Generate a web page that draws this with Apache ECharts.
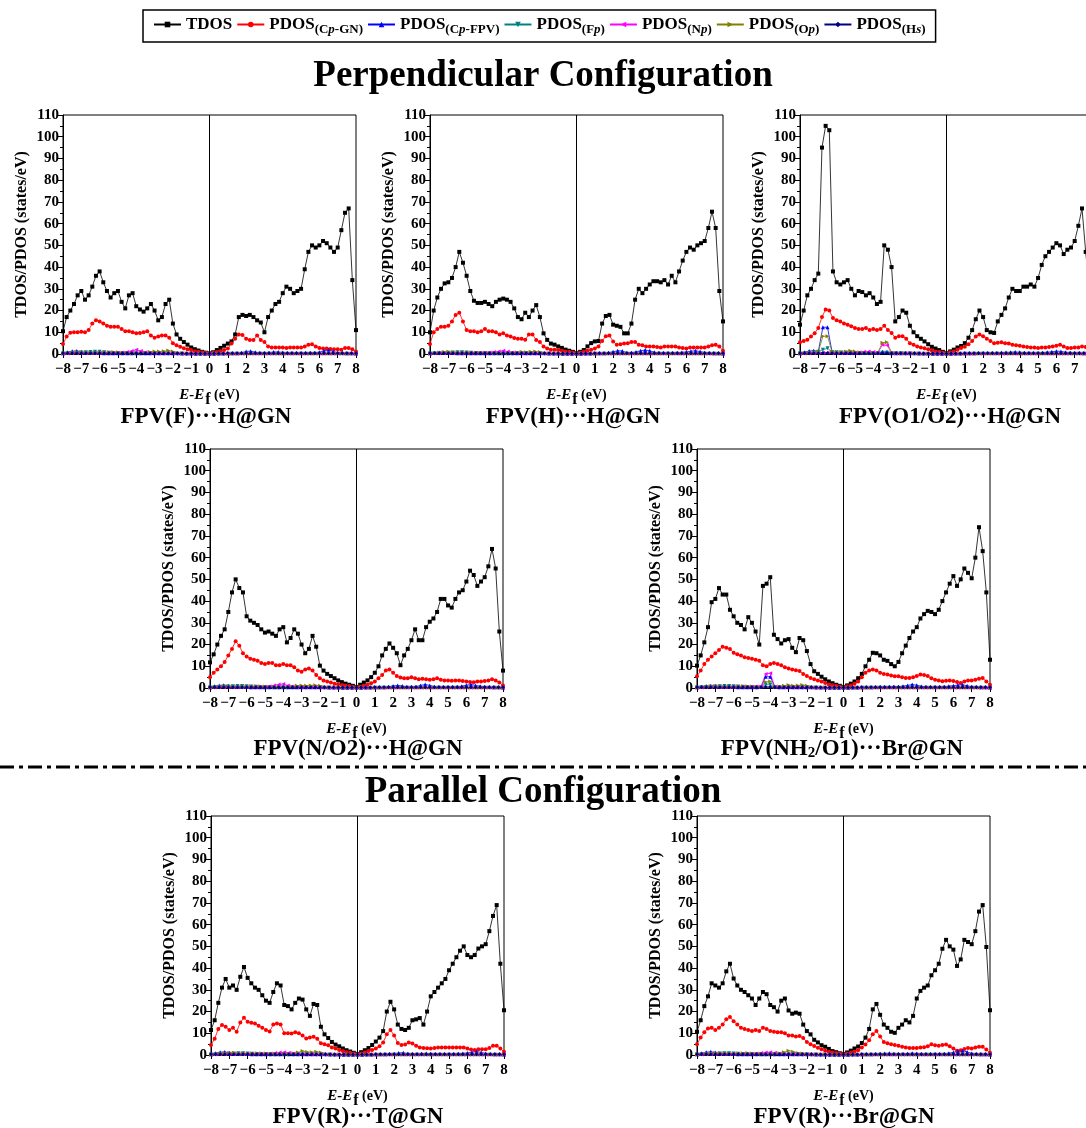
<!DOCTYPE html>
<html>
<head>
<meta charset="utf-8">
<script src="https://cdn.jsdelivr.net/npm/echarts/dist/echarts.min.js"></script>
<style>html,body{margin:0;padding:0;background:#fff}#main{width:1086px;height:1128px}</style>
</head>
<body>
<div id="main"></div>
<script>
// energy grids (eV)
var E_MAIN = [-8,-7.8,-7.6,-7.4,-7.2,-7,-6.8,-6.6,-6.4,-6.2,-6,-5.8,-5.6,-5.4,-5.2,-5,-4.8,-4.6,-4.4,-4.2,
-4,-3.8,-3.6,-3.4,-3.2,-3,-2.8,-2.6,-2.4,-2.2,-2,-1.8,-1.6,-1.4,-1.2,-1,-0.8,-0.6,-0.4,-0.2,
0,0.2,0.4,0.6,0.8,1,1.2,1.4,1.6,1.8,2,2.2,2.4,2.6,2.8,3,3.2,3.4,3.6,3.8,
4,4.2,4.4,4.6,4.8,5,5.2,5.4,5.6,5.8,6,6.2,6.4,6.6,6.8,7,7.2,7.4,7.6,7.8,8];
var E_MINOR = [-8,-7.75,-7.5,-7.25,-7,-6.75,-6.5,-6.25,-6,-5.75,-5.5,-5.25,-5,-4.75,-4.5,-4.25,
-4,-3.75,-3.5,-3.25,-3,-2.75,-2.5,-2.25,-2,-1.75,-1.5,-1.25,-1,-0.75,-0.5,-0.25,
0,0.25,0.5,0.75,1,1.25,1.5,1.75,2,2.25,2.5,2.75,3,3.25,3.5,3.75,
4,4.25,4.5,4.75,5,5.25,5.5,5.75,6,6.25,6.5,6.75,7,7.25,7.5,7.75,8];

// panel 1 : FPV(F)...H@GN
var tdos_1 = [10.5,17,20,23,27,29,25,27,31,36, 38,33,29,26,28,29,24,21,27,28, 22,20.5,19.5,21,23,20,15.5,17,23,25,
14,9,7,5.5,4.3,3,2.2,1.6,1,0.6, 0.3,0.8,1.8,2.8,3.8,4.8,5.8,9,17,18, 17.5,18,17,15.5,14.5,10,17,20,23,24,
28,31,30,28,29,30,39,47,50,49, 50,52,51,49,47,49,57,65,67,34, 11];
var cpgn_1 = [4.6,8,9.8,10,10,10.2,10,11,14,15.5, 15,14,13,12.5,12.5,12.5,11.5,10.5,10.5,10, 9.5,9.7,10,10.5,8.5,7.5,8,8.5,8.5,7.5,
5,4,3.3,2.7,2.2,1.8,1.3,1,0.8,0.6, 0.4,0.6,0.9,1.3,1.8,2.5,4.8,7,9,8.8, 7,6.5,6.5,8.5,6.5,5.5,3.5,3,3,3,
3,2.8,3,3,3,3,3.5,4.3,4.5,3.5, 2.8,2.5,2.5,2.3,2.2,2.2,2,2.8,2.8,2.2, 1.2];
var cpfpv_1 = [0.4,0.8,1.3,1.4,1.0,0.6,0.5,0.5, 0.5,0.4,0.4,0.4,0.4,0.4,0.4,0.4, 0.4,0.4,0.4,0.4,0.4,0.4,0.3,0.3, 0.3,0.3,0.2,0.2,0.2,0.1,0.1,0.1,
0.1,0.1,0.2,0.2,0.3,0.3,0.4,0.5, 1.2,1.3,0.8,0.5,0.5,0.6,0.9,0.9, 0.7,0.5,0.5,0.5,0.5,0.5,0.6,0.6, 0.8,1.5,1.9,1.2,0.6,0.5,0.4,0.3, 0.2];
var fp_1 = [0.2,0.3,0.5,0.6,0.7,0.8,0.9,1.0, 1.0,0.8,0.6,0.5,0.4,0.3,0.3,0.3, 0.3,0.3,0.3,0.3,0.3,0.3,0.3,0.2, 0.2,0.1,0.1,0.1,0.1,0.1,0.1,0.1,
0.1,0.1,0.1,0.1,0.1,0.1,0.1,0.1, 0.1,0.1,0.1,0.1,0.1,0.1,0.1,0.1, 0.1,0.1,0.1,0.1,0.1,0.1,0.1,0.1, 0.1,0.1,0.1,0.1,0.1,0.1,0.1,0.1, 0.1];
var np_1 = [0.1,0.2,0.3,0.3,0.4,0.4,0.4,0.4, 0.5,0.5,0.5,0.6,0.6,0.7,0.9,1.4, 1.9,1.4,0.8,0.5,0.4,0.4,0.4,0.3, 0.3,0.2,0.2,0.1,0.1,0.1,0.1,0.1,
0.1,0.1,0.1,0.1,0.1,0.1,0.1,0.1, 0.1,0.1,0.1,0.1,0.1,0.1,0.1,0.1, 0.1,0.1,0.1,0.1,0.1,0.1,0.1,0.1, 0.1,0.1,0.1,0.1,0.1,0.1,0.1,0.1, 0.1];
var op_1 = [0.2,0.4,0.6,0.8,0.8,0.7,0.6,0.6, 0.6,0.7,0.8,0.9,0.8,0.6,0.5,0.4, 0.4,0.5,0.7,0.9,1.2,1.1,1.3,1.6, 1.2,0.5,0.3,0.2,0.2,0.1,0.1,0.1,
0.1,0.1,0.1,0.1,0.1,0.1,0.1,0.1, 0.1,0.1,0.1,0.1,0.1,0.1,0.1,0.1, 0.1,0.1,0.1,0.1,0.1,0.1,0.1,0.1, 0.1,0.1,0.1,0.1,0.1,0.1,0.1,0.1, 0.1];
var hs_1 = [0.3,0.3,0.4,0.4,0.3,0.3,0.3,0.3, 0.3,0.3,0.3,0.3,0.3,0.3,0.3,0.3, 0.3,0.3,0.3,0.3,0.3,0.3,0.3,0.3, 0.3,0.3,0.3,0.2,0.2,0.2,0.2,0.2,
0.2,0.2,0.2,0.2,0.3,0.3,0.3,0.3, 0.3,0.3,0.3,0.3,0.3,0.3,0.3,0.3, 0.3,0.3,0.3,0.3,0.3,0.3,0.3,0.3, 0.3,0.3,0.3,0.3,0.3,0.3,0.3,0.3, 0.3];

// panel 2 : FPV(H)...H@GN
var tdos_2 = [10,20,26,30,32.5,33,35,40,47,42, 36,29,24.5,23.5,23.5,24,23,22,24,25, 25.5,25,24,21,17,16,19,17,20,22.5,
17,9.5,6.5,4.8,4.3,3.5,2.8,2,1.5,1, 0.5,1,1.8,3.5,5,5.8,6,14,17.5,18, 13.5,13,12.5,9.5,9.5,14,25,30,28,30,
32,33.5,33.5,33,34,32,36,33,38,43, 47,49,48,50,51,52,58,65.5,58,29, 15];
var cpgn_2 = [4.6,10,11.5,12.5,12.5,13,15,18,19,15, 11,10.5,10.5,10,10.5,11.5,10.5,10.5,10,9, 9.5,8.5,8,7.4,7,7,6.6,9,9,6.5,
5.5,3.5,2.5,2,2,1.8,1.5,1.2,1,0.7, 0.5,0.7,1,1.5,2,2.5,3.5,6,8.2,8.5, 5.8,4.3,4.5,4.8,5,5.5,5.5,4.3,4,3.5,
3.5,3.5,3.2,3,3.5,3.5,3.5,3.5,3,2.8, 2.5,3,3,3,3,3,3.5,4,4.2,3.5, 1.5];
var cpfpv_2 = [0.4,0.5,0.7,0.8,0.6,0.5,0.4,0.4, 0.4,0.4,0.4,0.4,0.4,0.4,0.4,0.4, 0.4,0.4,0.4,0.4,0.4,0.4,0.3,0.3, 0.3,0.3,0.2,0.2,0.2,0.1,0.1,0.1,
0.1,0.1,0.2,0.2,0.3,0.3,0.4,0.6, 1.0,1.5,1.4,0.6,0.6,0.9,1.5,1.8, 1.5,0.8,0.6,0.5,0.5,0.5,0.6,0.7, 0.9,1.3,1.5,1.1,0.7,0.5,0.4,0.3, 0.2];
var fp_2 = [0.2,0.3,0.4,0.5,0.6,0.7,0.8,0.8, 0.7,0.6,0.5,0.4,0.4,0.3,0.3,0.3, 0.3,0.3,0.3,0.3,0.3,0.3,0.3,0.2, 0.2,0.1,0.1,0.1,0.1,0.1,0.1,0.1,
0.1,0.1,0.1,0.1,0.1,0.1,0.1,0.1, 0.1,0.1,0.1,0.1,0.1,0.1,0.1,0.1, 0.1,0.1,0.1,0.1,0.1,0.1,0.1,0.1, 0.1,0.1,0.1,0.1,0.1,0.1,0.1,0.1, 0.1];
var np_2 = [0.1,0.2,0.3,0.3,0.4,0.4,0.4,0.4, 0.5,0.5,0.5,0.6,0.6,0.7,0.9,1.2, 1.5,1.1,0.7,0.5,0.4,0.4,0.3,0.3, 0.3,0.2,0.2,0.1,0.1,0.1,0.1,0.1,
0.1,0.1,0.1,0.1,0.1,0.1,0.1,0.1, 0.1,0.1,0.1,0.1,0.1,0.1,0.1,0.1, 0.1,0.1,0.1,0.1,0.1,0.1,0.1,0.1, 0.1,0.1,0.1,0.1,0.1,0.1,0.1,0.1, 0.1];
var op_2 = [0.2,0.4,0.7,0.9,1.0,0.8,0.6,0.6, 0.6,0.6,0.6,0.6,0.6,0.5,0.4,0.4, 0.4,0.4,0.5,0.7,1.0,0.8,1.0,1.2, 0.9,0.4,0.2,0.2,0.1,0.1,0.1,0.1,
0.1,0.1,0.1,0.1,0.1,0.1,0.1,0.1, 0.1,0.1,0.1,0.1,0.1,0.1,0.1,0.1, 0.1,0.1,0.1,0.1,0.1,0.1,0.1,0.1, 0.1,0.1,0.1,0.1,0.1,0.1,0.1,0.1, 0.1];
var hs_2 = [0.3,0.3,0.4,0.4,0.3,0.3,0.3,0.3, 0.3,0.3,0.3,0.3,0.3,0.3,0.3,0.3, 0.3,0.3,0.3,0.3,0.3,0.3,0.3,0.3, 0.3,0.3,0.3,0.2,0.2,0.2,0.2,0.2,
0.2,0.2,0.2,0.2,0.3,0.3,0.3,0.3, 0.3,0.3,0.3,0.3,0.3,0.3,0.3,0.3, 0.3,0.3,0.3,0.3,0.3,0.3,0.3,0.3, 0.3,0.3,0.3,0.3,0.3,0.3,0.3,0.3, 0.3];

// panel 3 : FPV(O1/O2)...H@GN
var tdos_3 = [13.5,20,27,30,34,37,95,105,103,38, 33,32,33,34,30,27,29,28.5,27,28, 26,23,24,50,48,40,15,17,20,19,
13,10,8.2,7,5.8,4.5,3.3,2.5,1.8,1, 0.5,1.2,2,3,3.7,5,7.5,11,16,20, 17,11,10,9.7,15,18,21,26,30,29,
29,31,31,32,31,35,41,45,47,49, 51,50,46,48,49,52,59,67,47,30, 15];
var cpgn_3 = [5.4,6,6.6,8,9.5,12,17,20.5,20,16.6, 15.5,15,14,13.5,12.8,12,11.5,11.5,12,11, 11.5,11,11.5,13,11,9.7,7.5,8.2,8.2,7,
5,4.2,3.5,3,2.7,2.2,1.6,1.2,1,0.7, 0.5,0.8,1.2,2,2.8,3.3,4.5,6,8,9, 8.2,7,6,5,5.2,5.4,5,4.8,4.3,4,
3.8,3.5,3.2,3,3,2.8,3,3,3.2,3.5, 3.8,4.3,3.5,2.8,2.8,3,3,3.5,3.2,2.8, 1.5];
var cpfpv_3 = [0.4,0.8,1.4,1.5,1.2,12.3,12.3,1.0, 0.6,0.5,0.5,0.5,0.5,0.5,0.5,0.5, 0.5,0.5,1.0,1.0,0.4,0.4,0.4,0.3, 0.3,0.3,0.2,0.2,0.2,0.1,0.1,0.1,
0.1,0.1,0.2,0.2,0.3,0.3,0.4,0.5, 0.5,0.5,0.5,0.5,0.6,0.7,0.8,0.9, 0.8,0.6,0.5,0.5,0.5,0.6,0.8,1.0, 1.3,1.2,0.8,0.6,0.5,0.5,0.4,0.4, 0.3];
var fp_3 = [0.2,0.3,0.5,0.7,1.0,2.0,2.6,0.9, 0.8,0.7,0.7,0.6,0.5,0.4,0.4,0.4, 0.4,0.4,0.6,0.6,0.3,0.3,0.3,0.2, 0.2,0.1,0.1,0.1,0.1,0.1,0.1,0.1,
0.1,0.1,0.1,0.1,0.1,0.1,0.1,0.1, 0.1,0.1,0.1,0.1,0.1,0.1,0.1,0.1, 0.1,0.1,0.1,0.1,0.1,0.1,0.1,0.1, 0.1,0.1,0.1,0.1,0.1,0.1,0.1,0.1, 0.1];
var np_3 = [0.1,0.2,0.3,0.3,0.4,0.6,0.6,0.4, 0.4,0.4,0.5,0.6,0.6,0.8,1.0,1.2, 0.9,0.6,4.2,4.0,0.5,0.4,0.3,0.3, 0.3,0.2,0.2,0.1,0.1,0.1,0.1,0.1,
0.1,0.1,0.1,0.1,0.1,0.1,0.1,0.1, 0.1,0.1,0.1,0.1,0.1,0.1,0.1,0.1, 0.1,0.1,0.1,0.1,0.1,0.1,0.1,0.1, 0.1,0.1,0.1,0.1,0.1,0.1,0.1,0.1, 0.1];
var op_3 = [0.2,0.4,0.6,0.8,1.0,8.2,8.2,1.0, 0.8,0.8,1.0,1.5,1.2,0.8,0.6,0.5, 0.5,0.6,5.2,5.4,0.6,0.4,0.4,0.4, 0.3,0.2,0.2,0.1,0.1,0.1,0.1,0.1,
0.1,0.1,0.1,0.1,0.1,0.1,0.1,0.1, 0.1,0.1,0.1,0.1,0.1,0.1,0.1,0.1, 0.1,0.1,0.1,0.1,0.1,0.1,0.1,0.1, 0.1,0.1,0.1,0.1,0.1,0.1,0.1,0.1, 0.1];
var hs_3 = [0.3,0.3,0.4,0.4,0.4,0.5,0.5,0.3, 0.3,0.3,0.3,0.3,0.3,0.3,0.3,0.3, 0.3,0.3,0.4,0.4,0.3,0.3,0.3,0.3, 0.3,0.3,0.3,0.2,0.2,0.2,0.2,0.2,
0.2,0.2,0.2,0.2,0.3,0.3,0.3,0.3, 0.3,0.3,0.3,0.3,0.3,0.3,0.3,0.3, 0.3,0.3,0.3,0.3,0.3,0.3,0.3,0.3, 0.3,0.3,0.3,0.3,0.3,0.3,0.3,0.3, 0.3];

// panel 4 : FPV(N/O2)...H@GN
var tdos_4 = [11.8,15.5,20,24,27,35,44,50,46,44, 33,31,30,29,27,25.5,26,25,24,27, 28,21,23,27,25,20,16,18,24,19,
10.3,8,6.5,5.5,4.5,3.5,2.7,2,1.5,1, 0.5,1.5,2.5,3.5,5,7,10,15,18,20.5, 18.5,16,10.5,15,18,22,27,22,22,28,
30.5,32,35,41,41,38,37,41,44,45, 49,54,52,47,49,51,56,64,55,26, 8];
var cpgn_4 = [5,7,8.5,10,12,15,18,21.5,19.5,16, 14.5,13.5,13,12.5,11.5,11,11.5,11.5,10.5,10.5, 11,10.5,10.5,9.5,8,7.5,8.5,9,8,6,
4.5,3.5,3,2.5,2,1.7,1.4,1.1,0.9,0.6, 0.4,0.7,1,1.5,2.2,3,4.5,6,8,8.5, 7,5.5,4.8,4.5,4.5,5,4.5,4,4.2,4,
3.8,4,4.5,3.8,3.5,3.5,3.3,3.5,3.5,3.2, 3,2.8,2.7,3,3,3.2,3.5,4,3.5,2.5, 1.2];
var cpfpv_4 = [0.4,0.8,1.2,1.3,1.0,0.6,0.5,0.5, 0.5,0.4,0.4,0.4,0.4,0.4,0.4,0.4, 0.4,0.4,0.4,0.4,0.4,0.4,0.3,0.3, 0.3,0.3,0.2,0.2,0.2,0.1,0.1,0.1,
0.1,0.1,0.2,0.2,0.3,0.3,0.4,0.5, 0.9,1.2,0.9,0.5,0.5,0.6,1.2,1.6, 1.2,0.6,0.5,0.5,0.5,0.5,0.6,0.8, 1.3,1.6,1.2,0.8,0.6,0.5,0.4,0.3, 0.2];
var fp_4 = [0.2,0.3,0.5,0.6,0.7,0.8,0.9,0.9, 0.8,0.7,0.6,0.5,0.4,0.3,0.3,0.3, 0.3,0.3,0.3,0.3,0.3,0.3,0.3,0.2, 0.2,0.1,0.1,0.1,0.1,0.1,0.1,0.1,
0.1,0.1,0.1,0.1,0.1,0.1,0.1,0.1, 0.1,0.1,0.1,0.1,0.1,0.1,0.1,0.1, 0.1,0.1,0.1,0.1,0.1,0.1,0.1,0.1, 0.1,0.1,0.1,0.1,0.1,0.1,0.1,0.1, 0.1];
var np_4 = [0.1,0.2,0.3,0.3,0.4,0.4,0.4,0.4, 0.5,0.5,0.5,0.6,0.6,0.8,1.2,1.6, 1.8,1.2,0.7,0.5,0.4,0.4,0.3,0.3, 0.3,0.2,0.2,0.1,0.1,0.1,0.1,0.1,
0.1,0.1,0.1,0.1,0.1,0.1,0.1,0.1, 0.1,0.1,0.1,0.1,0.1,0.1,0.1,0.1, 0.1,0.1,0.1,0.1,0.1,0.1,0.1,0.1, 0.1,0.1,0.1,0.1,0.1,0.1,0.1,0.1, 0.1];
var op_4 = [0.2,0.4,0.6,0.8,0.8,0.7,0.6,0.6, 0.6,0.7,0.8,0.8,0.7,0.6,0.5,0.4, 0.4,0.5,0.7,1.0,1.2,1.0,1.2,1.3, 1.0,0.5,0.3,0.2,0.2,0.1,0.1,0.1,
0.1,0.1,0.1,0.1,0.1,0.1,0.1,0.1, 0.1,0.1,0.1,0.1,0.1,0.1,0.1,0.1, 0.1,0.1,0.1,0.1,0.1,0.1,0.1,0.1, 0.1,0.1,0.1,0.1,0.1,0.1,0.1,0.1, 0.1];
var hs_4 = [0.3,0.3,0.4,0.4,0.3,0.3,0.3,0.3, 0.3,0.3,0.3,0.3,0.3,0.3,0.3,0.3, 0.3,0.3,0.3,0.3,0.3,0.3,0.3,0.3, 0.3,0.3,0.3,0.2,0.2,0.2,0.2,0.2,
0.2,0.2,0.2,0.2,0.3,0.3,0.3,0.3, 0.3,0.3,0.3,0.3,0.3,0.3,0.3,0.3, 0.3,0.3,0.3,0.3,0.3,0.3,0.3,0.3, 0.3,0.3,0.3,0.3,0.3,0.3,0.3,0.3, 0.3];

// panel 5 : FPV(NH2/O1)...Br@GN
var tdos_5 = [10.3,15,21,28,39.5,41,46,43,43,36, 33,30,29,27,32.6,30,26,20,47,48, 51,24.5,22.5,20.5,22,22.5,18.5,16.5,23,22,
17,11,7.7,6.5,5.2,4,3,2.2,1.5,1, 0.5,1.2,2,3,4.5,6.5,10,13,16.2,16, 15,13,12.5,11,10,12,16,19.5,23,26,
28,32,34,35.5,35,34,36,40,44,48, 51.5,47,50,55,53,50.5,60,74,63,44, 13];
var cpgn_5 = [5.4,8,11,13,14.5,16,17.5,19,18.5,18, 16.2,15.5,15,14.2,13.8,13.5,13,12.5,10.5,10, 11,11.5,11,10.5,9.5,9,8.5,8.2,7.8,6.5,
5.5,4.6,4,3.5,3,2.3,1.6,1.3,1,0.7, 0.4,0.8,1.2,2,3,5,7,8,8.5,8, 7,6.5,6.2,5.8,5.4,5.4,5,4.6,4.6,5,
5.5,6.2,6,5.5,4.5,3.8,3.5,3.1,3.3,3.5, 3.2,2.8,2.3,3,3.5,3.5,3.8,4.3,4.6,3, 1.5];
var cpfpv_5 = [0.4,0.6,0.9,1.0,1.0,0.7,0.5,0.5, 0.5,0.4,0.4,0.4,0.4,0.4,0.5,5.2, 5.2,0.5,0.4,0.4,0.4,0.4,0.3,0.3, 0.3,0.3,0.2,0.2,0.2,0.1,0.1,0.1,
0.1,0.1,0.2,0.2,0.3,0.3,0.4,0.5, 0.5,0.5,0.6,0.6,0.6,0.8,1.2,1.6, 1.3,0.7,0.5,0.5,0.5,0.5,0.6,0.8, 1.0,1.4,1.5,1.0,0.6,0.5,0.4,0.3, 0.2];
var fp_5 = [0.2,0.3,0.5,0.6,0.7,0.8,0.9,0.9, 0.8,0.7,0.6,0.5,0.4,0.3,0.4,1.5, 1.5,0.4,0.3,0.3,0.3,0.3,0.3,0.2, 0.2,0.1,0.1,0.1,0.1,0.1,0.1,0.1,
0.1,0.1,0.1,0.1,0.1,0.1,0.1,0.1, 0.1,0.1,0.1,0.1,0.1,0.1,0.1,0.1, 0.1,0.1,0.1,0.1,0.1,0.1,0.1,0.1, 0.1,0.1,0.1,0.1,0.1,0.1,0.1,0.1, 0.1];
var np_5 = [0.1,0.2,0.3,0.3,0.4,0.4,0.4,0.4, 0.5,0.5,0.5,0.6,0.6,0.7,0.8,6.5, 6.8,0.6,0.4,0.4,0.4,0.4,0.3,0.3, 0.3,0.2,0.2,0.1,0.1,0.1,0.1,0.1,
0.1,0.1,0.1,0.1,0.1,0.1,0.1,0.1, 0.1,0.1,0.1,0.1,0.1,0.1,0.1,0.1, 0.1,0.1,0.1,0.1,0.1,0.1,0.1,0.1, 0.1,0.1,0.1,0.1,0.1,0.1,0.1,0.1, 0.1];
var op_5 = [0.2,0.4,0.6,0.8,0.8,0.7,0.6,0.6, 0.6,0.7,0.8,0.8,0.7,0.6,0.5,2.8, 3.0,0.5,0.7,1.0,1.4,1.0,1.2,1.4, 1.0,0.5,0.3,0.2,0.2,0.1,0.1,0.1,
0.1,0.1,0.1,0.1,0.1,0.1,0.1,0.1, 0.1,0.1,0.1,0.1,0.1,0.1,0.1,0.1, 0.1,0.1,0.1,0.1,0.1,0.1,0.1,0.1, 0.1,0.1,0.1,0.1,0.1,0.1,0.1,0.1, 0.1];
var hs_5 = [0.3,0.3,0.4,0.4,0.3,0.3,0.3,0.3, 0.3,0.3,0.3,0.3,0.3,0.3,0.4,0.5, 0.5,0.3,0.3,0.3,0.3,0.3,0.3,0.3, 0.3,0.3,0.3,0.2,0.2,0.2,0.2,0.2,
0.2,0.2,0.2,0.2,0.3,0.3,0.3,0.3, 0.3,0.3,0.3,0.3,0.3,0.3,0.3,0.3, 0.3,0.3,0.3,0.3,0.3,0.3,0.3,0.3, 0.3,0.3,0.3,0.3,0.3,0.3,0.3,0.3, 0.3];

// panel 6 : FPV(R)...T@GN
var tdos_6 = [11.5,16,24,31,35,31,32,30,36,40.5, 35.5,33,31,30,27.5,25,24,29,33,32, 23,22.5,21,24,26,25.5,21,18,23.5,23,
13,9.5,7.8,6,4.8,4,3,2.2,1.6,1, 0.5,1.3,2.2,3.2,4.6,6.2,8,11,20,24.5, 21,14,12,11.5,12.5,16,16.4,17,14,20,
27,29,31,33,35,39,42,45,48,50, 46,45,46,49,50,51,57,64,69,42, 20.6];
var cpgn_6 = [4.6,7.5,12,13.8,13,11.5,12.5,10.7,15,17.2, 15.3,14.8,14.5,13.5,12.5,11.5,10.8,14,14.5,14, 10,10,9.9,10.5,10,9,7.6,8,8.4,7.5,
5.4,5,4.5,3.5,3,2.3,1.8,1.3,1,0.7, 0.4,0.7,1.2,1.8,2.3,3,4,5.8,9.5,11.5, 9,5.5,4.6,4.8,5.7,5.3,4.2,3.5,3.2,3.1,
3,3.2,3.4,3.5,3.5,3.5,3.5,3.5,3.5,3.4, 3,2.5,2.3,2.6,2.6,2.6,3.2,4.2,4.3,3, 1.5];
var cpfpv_6 = [0.4,0.8,1.3,1.4,1.0,0.6,0.5,0.5, 0.5,0.4,0.4,0.4,0.4,0.4,0.4,0.4, 0.4,0.4,0.4,0.4,0.4,0.4,0.3,0.3, 0.3,0.3,0.2,0.2,0.2,0.1,0.1,0.1,
0.1,0.1,0.2,0.2,0.3,0.3,0.4,0.5, 0.6,0.9,1.0,0.6,0.5,0.5,0.6,0.7, 0.6,0.5,0.5,0.5,0.5,0.5,0.6,0.7, 0.9,1.3,1.6,1.2,0.7,0.5,0.4,0.3, 0.2];
var fp_6 = [0.2,0.3,0.4,0.5,0.6,0.7,0.8,0.8, 0.7,0.6,0.5,0.4,0.4,0.3,0.3,0.3, 0.3,0.3,0.3,0.3,0.3,0.3,0.3,0.2, 0.2,0.1,0.1,0.1,0.1,0.1,0.1,0.1,
0.1,0.1,0.1,0.1,0.1,0.1,0.1,0.1, 0.1,0.1,0.1,0.1,0.1,0.1,0.1,0.1, 0.1,0.1,0.1,0.1,0.1,0.1,0.1,0.1, 0.1,0.1,0.1,0.1,0.1,0.1,0.1,0.1, 0.1];
var np_6 = [0.1,0.2,0.3,0.3,0.4,0.4,0.4,0.4, 0.5,0.5,0.5,0.6,0.6,0.7,0.9,1.2, 1.3,1.0,0.7,0.5,0.4,0.4,0.3,0.3, 0.3,0.2,0.2,0.1,0.1,0.1,0.1,0.1,
0.1,0.1,0.1,0.1,0.1,0.1,0.1,0.1, 0.1,0.1,0.1,0.1,0.1,0.1,0.1,0.1, 0.1,0.1,0.1,0.1,0.1,0.1,0.1,0.1, 0.1,0.1,0.1,0.1,0.1,0.1,0.1,0.1, 0.1];
var op_6 = [0.2,0.4,0.7,0.9,1.0,1.0,0.8,0.7, 0.6,0.7,0.8,0.8,0.7,0.6,0.5,0.4, 0.4,0.5,0.8,1.2,1.8,1.4,1.3,1.5, 1.1,0.5,0.3,0.2,0.2,0.1,0.1,0.1,
0.1,0.1,0.1,0.1,0.1,0.1,0.1,0.1, 0.1,0.1,0.1,0.1,0.1,0.1,0.1,0.1, 0.1,0.1,0.1,0.1,0.1,0.1,0.1,0.1, 0.1,0.1,0.1,0.1,0.1,0.1,0.1,0.1, 0.1];
var hs_6 = [0.3,0.3,0.4,0.4,0.3,0.3,0.3,0.3, 0.3,0.3,0.3,0.3,0.3,0.3,0.3,0.3, 0.3,0.3,0.3,0.3,0.3,0.3,0.3,0.3, 0.3,0.3,0.3,0.2,0.2,0.2,0.2,0.2,
0.2,0.2,0.2,0.2,0.3,0.3,0.3,0.3, 0.3,0.3,0.3,0.3,0.3,0.3,0.3,0.3, 0.3,0.3,0.3,0.3,0.3,0.3,0.3,0.3, 0.3,0.3,0.3,0.3,0.3,0.3,0.3,0.3, 0.3];

// panel 7 : FPV(R)...Br@GN
var tdos_7 = [10.7,16,22.5,27,33,32,31,33,38.5,42, 35.2,32,30,29,27.5,26,23,26,29,28, 23,22,20,25,26,20.5,19,19.5,19,14,
11,9.5,7,5.8,4.5,3.8,2.8,1.8,1.3,0.8, 0.5,1.2,2,3,3.9,5.5,8,12,21,23.5, 18.5,14,12.5,10.7,10.2,12.5,14,16,15,18,
26,29.5,31,32,36.7,39,42,48.9,53,50, 48.5,41,44,53,52,51,57,66,69,49.7, 20.6];
var cpgn_7 = [5,8,10.5,12.2,12.5,11.5,12.5,14,16.5,17.5, 15.5,14,12.5,12,11.5,11,11.5,11,12.5,12, 11,10.7,10.5,10.5,10,9,9,8.5,8.7,7.8,
6,5,4.1,3.3,2.6,2,1.5,1.2,0.9,0.7, 0.4,0.7,1,1.5,2.2,3.5,4.8,6.8,9.5,11, 8.5,6,5.4,5,4.6,4.2,3.8,3.5,3.2,3.2,
3.2,3.4,3.6,4,4.9,4.5,4.3,4.6,4.8,4, 3,2,2.2,2.8,3.2,3,3.4,3.8,3.8,2.5, 1];
var cpfpv_7 = [0.4,0.8,1.3,1.5,1.1,0.7,0.5,0.5, 0.5,0.4,0.4,0.4,0.4,0.4,0.4,0.4, 0.4,0.4,0.4,0.4,0.4,0.4,0.3,0.3, 0.3,0.3,0.2,0.2,0.2,0.1,0.1,0.1,
0.1,0.1,0.2,0.2,0.3,0.3,0.4,0.5, 0.6,0.7,0.8,0.6,0.5,0.5,0.6,0.8, 0.7,0.5,0.5,0.5,0.5,0.5,0.6,0.8, 1.2,1.8,2.0,1.4,0.7,0.5,0.4,0.3, 0.2];
var fp_7 = [0.2,0.3,0.4,0.5,0.6,0.7,0.8,0.8, 0.7,0.6,0.5,0.4,0.4,0.3,0.3,0.3, 0.3,0.3,0.3,0.3,0.3,0.3,0.3,0.2, 0.2,0.1,0.1,0.1,0.1,0.1,0.1,0.1,
0.1,0.1,0.1,0.1,0.1,0.1,0.1,0.1, 0.1,0.1,0.1,0.1,0.1,0.1,0.1,0.1, 0.1,0.1,0.1,0.1,0.1,0.1,0.1,0.1, 0.1,0.1,0.1,0.1,0.1,0.1,0.1,0.1, 0.1];
var np_7 = [0.1,0.2,0.3,0.3,0.4,0.4,0.4,0.4, 0.5,0.5,0.5,0.6,0.6,0.7,0.9,1.2, 1.3,1.0,0.7,0.5,0.4,0.4,0.3,0.3, 0.3,0.2,0.2,0.1,0.1,0.1,0.1,0.1,
0.1,0.1,0.1,0.1,0.1,0.1,0.1,0.1, 0.1,0.1,0.1,0.1,0.1,0.1,0.1,0.1, 0.1,0.1,0.1,0.1,0.1,0.1,0.1,0.1, 0.1,0.1,0.1,0.1,0.1,0.1,0.1,0.1, 0.1];
var op_7 = [0.2,0.4,0.6,0.8,0.9,0.9,0.8,0.7, 0.6,0.7,0.8,0.9,0.7,0.6,0.5,0.4, 0.4,0.5,0.8,1.3,2.0,1.5,0.9,0.7, 0.5,0.4,0.3,0.2,0.2,0.1,0.1,0.1,
0.1,0.1,0.1,0.1,0.1,0.1,0.1,0.1, 0.1,0.1,0.1,0.1,0.1,0.1,0.1,0.1, 0.1,0.1,0.1,0.1,0.1,0.1,0.1,0.1, 0.1,0.1,0.1,0.1,0.1,0.1,0.1,0.1, 0.1];
var hs_7 = [0.3,0.3,0.4,0.4,0.3,0.3,0.3,0.3, 0.3,0.3,0.3,0.3,0.3,0.3,0.3,0.3, 0.3,0.3,0.3,0.3,0.3,0.3,0.3,0.3, 0.3,0.3,0.3,0.2,0.2,0.2,0.2,0.2,
0.2,0.2,0.2,0.2,0.3,0.3,0.3,0.3, 0.3,0.3,0.3,0.3,0.3,0.3,0.3,0.3, 0.3,0.3,0.3,0.3,0.3,0.3,0.3,0.3, 0.3,0.3,0.3,0.3,0.3,0.3,0.3,0.3, 0.3];

var PANELS = [
  {tdos:tdos_1, cpgn:cpgn_1, cpfpv:cpfpv_1, fp:fp_1, np:np_1, op:op_1, hs:hs_1},
  {tdos:tdos_2, cpgn:cpgn_2, cpfpv:cpfpv_2, fp:fp_2, np:np_2, op:op_2, hs:hs_2},
  {tdos:tdos_3, cpgn:cpgn_3, cpfpv:cpfpv_3, fp:fp_3, np:np_3, op:op_3, hs:hs_3},
  {tdos:tdos_4, cpgn:cpgn_4, cpfpv:cpfpv_4, fp:fp_4, np:np_4, op:op_4, hs:hs_4},
  {tdos:tdos_5, cpgn:cpgn_5, cpfpv:cpfpv_5, fp:fp_5, np:np_5, op:op_5, hs:hs_5},
  {tdos:tdos_6, cpgn:cpgn_6, cpfpv:cpfpv_6, fp:fp_6, np:np_6, op:op_6, hs:hs_6},
  {tdos:tdos_7, cpgn:cpgn_7, cpfpv:cpfpv_7, fp:fp_7, np:np_7, op:op_7, hs:hs_7}
];
var CAPTIONS = [
  'FPV(F)\u00b7\u00b7\u00b7H@GN',
  'FPV(H)\u00b7\u00b7\u00b7H@GN',
  'FPV(O1/O2)\u00b7\u00b7\u00b7H@GN',
  'FPV(N/O2)\u00b7\u00b7\u00b7H@GN',
  'FPV(NH{s|2}/O1)\u00b7\u00b7\u00b7Br@GN',
  'FPV(R)\u00b7\u00b7\u00b7T@GN',
  'FPV(R)\u00b7\u00b7\u00b7Br@GN'
];

// layout
var GRID_POS = [[63,115],[430,115],[800,115],[210,449],[697,449],[211,816],[697,816]];
var PLOT_W = 293, PLOT_H = 239;
var SERIF = '"Liberation Serif", "Times New Roman", serif';

var STYLES = [
  {key:'tdos', name:'TDOS', color:'#000000', symbol:'rect', rot:0},
  {key:'cpgn', name:'CpGN', color:'#ff0000', symbol:'circle', rot:0},
  {key:'cpfpv', name:'CpFPV', color:'#0000ff', symbol:'triangle', rot:0},
  {key:'fp', name:'Fp', color:'#008080', symbol:'triangle', rot:180},
  {key:'np', name:'Np', color:'#ff00ff', symbol:'triangle', rot:90},
  {key:'op', name:'Op', color:'#808000', symbol:'triangle', rot:-90},
  {key:'hs', name:'Hs', color:'#000080', symbol:'diamond', rot:0}
];
var LEGEND_TEXT = {
  TDOS: 'TDOS',
  CpGN: 'PDOS{s|(C}{i|p}{s|-GN)}',
  CpFPV: 'PDOS{s|(C}{i|p}{s|-FPV)}',
  Fp: 'PDOS{s|(F}{i|p}{s|)}',
  Np: 'PDOS{s|(N}{i|p}{s|)}',
  Op: 'PDOS{s|(O}{i|p}{s|)}',
  Hs: 'PDOS{s|(H}{i|s}{s|)}'
};

function pairs(xs, ys) {
  return xs.map(function(x, i) { return [x, ys[i]]; });
}

var grids = [], xAxes = [], yAxes = [], series = [], graphics = [];

GRID_POS.forEach(function(pos, g) {
  grids.push({left:pos[0], top:pos[1], width:PLOT_W, height:PLOT_H, show:true,
    borderColor:'#000', borderWidth:1, backgroundColor:'transparent', outerBoundsMode:'none', containLabel:false});
  xAxes.push({
    type:'value', gridIndex:g, min:-8, max:8, interval:1,
    name:'{i|E-E}{s|f}{n| (eV)}', nameLocation:'middle', nameGap:29,
    nameTextStyle:{color:'#000', rich:{
      i:{fontFamily:SERIF, fontStyle:'italic', fontWeight:'bold', fontSize:15, color:'#000'},
      s:{fontFamily:SERIF, fontWeight:'bold', fontSize:16, color:'#000', padding:[9,0,0,1]},
      n:{fontFamily:SERIF, fontWeight:'bold', fontSize:14, color:'#000'}}},
    axisLine:{onZero:false, lineStyle:{color:'#000', width:1}},
    axisTick:{show:true, length:4, lineStyle:{color:'#000'}},
    splitLine:{show:false},
    axisLabel:{color:'#000', fontFamily:SERIF, fontWeight:'bold', fontSize:15, margin:8,
      formatter:function(v){ return String(v).replace('-', '\u2212'); }}
  });
  yAxes.push({
    type:'value', gridIndex:g, min:0, max:110, interval:10,
    name:'TDOS/PDOS (states/eV)', nameLocation:'middle', nameGap:33, nameRotate:90,
    nameTextStyle:{color:'#000', fontFamily:SERIF, fontWeight:'bold', fontSize:16},
    axisLine:{onZero:false, lineStyle:{color:'#000', width:1}},
    axisTick:{show:true, length:5, lineStyle:{color:'#000'}},
    minorTick:{show:true, splitNumber:2, length:3, lineStyle:{color:'#000'}},
    splitLine:{show:false},
    axisLabel:{color:'#000', fontFamily:SERIF, fontWeight:'bold', fontSize:15, margin:4}
  });
  var p = PANELS[g];
  STYLES.forEach(function(st) {
    var xs = (st.key === 'tdos' || st.key === 'cpgn') ? E_MAIN : E_MINOR;
    var s = {
      type:'line', name:st.name, xAxisIndex:g, yAxisIndex:g,
      data:pairs(xs, p[st.key]),
      symbol:st.symbol, symbolSize:4, symbolRotate:st.rot, showAllSymbol:true,
      lineStyle:{width:0.8, color:st.color}, itemStyle:{color:st.color},
      animation:false, silent:true
    };
    if (st.key === 'tdos') {
      s.markLine = {silent:true, symbol:['none','none'], label:{show:false},
        lineStyle:{color:'#000', width:1, type:'solid'}, data:[{xAxis:0}], animation:false};
    }
    series.push(s);
  });
});

// panel captions
var CAP_POS = [[206,417],[573,417],[950,417],[358,749],[842,749],[358,1117],[844,1117]];
CAPTIONS.forEach(function(t, i) {
  graphics.push({type:'text', x:CAP_POS[i][0], y:CAP_POS[i][1], silent:true,
    style:{text:t, font:'bold 23px ' + SERIF, fill:'#000', textAlign:'center', textVerticalAlign:'middle',
      rich:{s:{font:'bold 15px ' + SERIF, fill:'#000', padding:[9,0,0,0]}}}});
});
graphics.push({type:'text', x:543, y:76, silent:true,
  style:{text:'Perpendicular Configuration', font:'bold 37px ' + SERIF, fill:'#000', textAlign:'center', textVerticalAlign:'middle'}});
graphics.push({type:'text', x:543, y:792, silent:true,
  style:{text:'Parallel Configuration', font:'bold 37px ' + SERIF, fill:'#000', textAlign:'center', textVerticalAlign:'middle'}});
graphics.push({type:'line', silent:true, shape:{x1:0, y1:767, x2:1086, y2:767},
  style:{stroke:'#000', lineWidth:3, lineDash:[14,5,4,5]}});

var chart = echarts.init(document.getElementById('main'), null, {renderer:'canvas'});
chart.setOption({
  backgroundColor:'#ffffff',
  animation:false,
  legend:{
    data:STYLES.map(function(s){ return s.name; }),
    left:143, top:10, padding:[6,10], itemGap:4, itemWidth:27, itemHeight:7,
    borderColor:'#000', borderWidth:1.5,
    formatter:function(name){ return LEGEND_TEXT[name]; },
    textStyle:{color:'#000', fontFamily:SERIF, fontWeight:'bold', fontSize:17,
      rich:{
        s:{fontFamily:SERIF, fontWeight:'bold', fontSize:13, color:'#000', padding:[10,0,0,0]},
        i:{fontFamily:SERIF, fontWeight:'bold', fontStyle:'italic', fontSize:13, color:'#000', padding:[10,0,0,0]}}},
    selectedMode:false
  },
  grid:grids, xAxis:xAxes, yAxis:yAxes, series:series, graphic:graphics
});
</script>
</body>
</html>
